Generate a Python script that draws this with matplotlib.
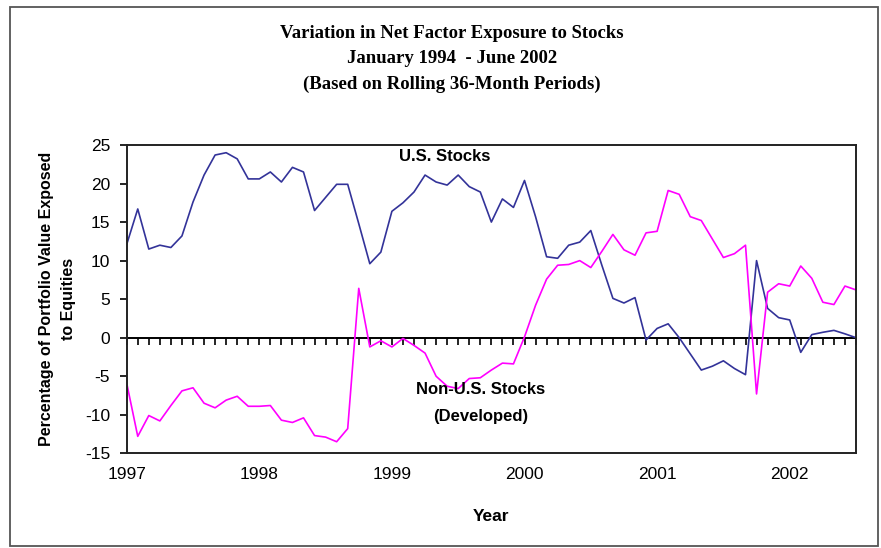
import matplotlib
matplotlib.use("Agg")
import matplotlib.pyplot as plt
from matplotlib.patches import Rectangle
import numpy as np

# net exposure, % of portfolio value, one value per rolling window (monthly)
us_stocks = [12.1, 16.7, 11.5, 12.0, 11.7, 13.2, 17.6, 21.1, 23.7, 24.0,
             23.2, 20.6, 20.6, 21.5, 20.2, 22.1, 21.5, 16.5, 18.2, 19.9,
             19.9, 14.8, 9.6, 11.1, 16.4, 17.5, 18.9, 21.1, 20.2, 19.8,
             21.1, 19.6, 18.9, 15.0, 18.0, 16.9, 20.4, 15.7, 10.5, 10.3,
             12.0, 12.4, 13.9, 9.4, 5.1, 4.5, 5.2, -0.3, 1.2, 1.8,
             0.0, -2.1, -4.2, -3.7, -3.0, -4.0, -4.8, 10.0, 3.8, 2.6,
             2.3, -1.9, 0.4, 0.7, 0.95, 0.5, 0.0]
non_us_developed = [-5.9, -12.8, -10.1, -10.8, -8.8, -6.9, -6.5, -8.5, -9.1, -8.1,
                    -7.6, -8.9, -8.9, -8.8, -10.7, -11.0, -10.4, -12.7, -12.9, -13.5,
                    -11.8, 6.4, -1.2, -0.4, -1.2, -0.1, -1.0, -2.0, -5.0, -6.3,
                    -6.6, -5.3, -5.2, -4.2, -3.3, -3.4, 0.1, 4.2, 7.6, 9.4,
                    9.5, 10.0, 9.1, 11.2, 13.4, 11.4, 10.7, 13.6, 13.8, 19.1,
                    18.6, 15.7, 15.2, 12.8, 10.4, 10.9, 12.0, -7.3, 5.9, 7.0,
                    6.7, 9.3, 7.7, 4.6, 4.3, 6.7, 6.2]
year_labels = ["1997", "1998", "1999", "2000", "2001", "2002"]
y_ticks = [-15, -10, -5, 0, 5, 10, 15, 20, 25]

title_lines = ["Variation in Net Factor Exposure to Stocks",
               "January 1994  - June 2002",
               "(Based on Rolling 36-Month Periods)"]

plt.rcParams["font.family"] = ["Liberation Sans", "DejaVu Sans"]
plt.rcParams["axes.unicode_minus"] = False

W, H = 881, 548
fig = plt.figure(figsize=(W / 100, H / 100), dpi=100)
ax = fig.add_axes([126.7 / W, 1 - 453.3 / H, (856 - 126.7) / W, (453.3 - 145) / H])

months = np.arange(len(us_stocks))
ax.plot(months, us_stocks, color="#333399", lw=1.2)
ax.plot(months, non_us_developed, color="#ff00ff", lw=1.2)

ax.set_xlim(0, len(months) - 1)
ax.set_ylim(-15, 25)
ax.set_yticks(y_ticks)
ax.set_xticks(months[::12])
ax.set_xticklabels(year_labels)
ax.tick_params(axis="x", length=0, pad=10, labelsize=12.5)
ax.tick_params(axis="y", length=5, width=1.2, pad=7, labelsize=12.5)
for sp in ax.spines.values():
    sp.set_linewidth(1.4)
    sp.set_color("#222222")

# zero line with a tick at every month
zero = ax.secondary_xaxis(15 / 40)
zero.set_xticks(months)
zero.tick_params(length=5, width=1.2, labelbottom=False, labeltop=False)
zero.spines["bottom"].set_linewidth(1.4)

ax.set_xlabel("Year", fontsize=12.5, fontweight="bold", labelpad=19)
ax.set_ylabel("Percentage of Portfolio Value Exposed\nto Equities",
              fontsize=11.5, fontweight="bold", linespacing=1.65)
ax.yaxis.set_label_coords(-0.069, 0.5)

ax.text(28.8, 23.5, "U.S. Stocks", ha="center", va="center",
        fontsize=12, fontweight="bold")
ax.text(32.0, -6.7, "Non-U.S. Stocks", ha="center", va="center",
        fontsize=12, fontweight="bold")
ax.text(32.0, -10.2, "(Developed)", ha="center", va="center",
        fontsize=12, fontweight="bold")

for k, line in enumerate(title_lines):
    fig.text(452 / W, 1 - (33 + 25.5 * k) / H, line, ha="center", va="center",
             fontsize=13.5, fontweight="bold", family="Liberation Serif")

fig.patches.append(Rectangle((10 / W, 1 - 546 / H), 868 / W, 539 / H,
                             transform=fig.transFigure, fill=False,
                             ec="#555555", lw=1.3))

fig.savefig("out.png", dpi=100)
